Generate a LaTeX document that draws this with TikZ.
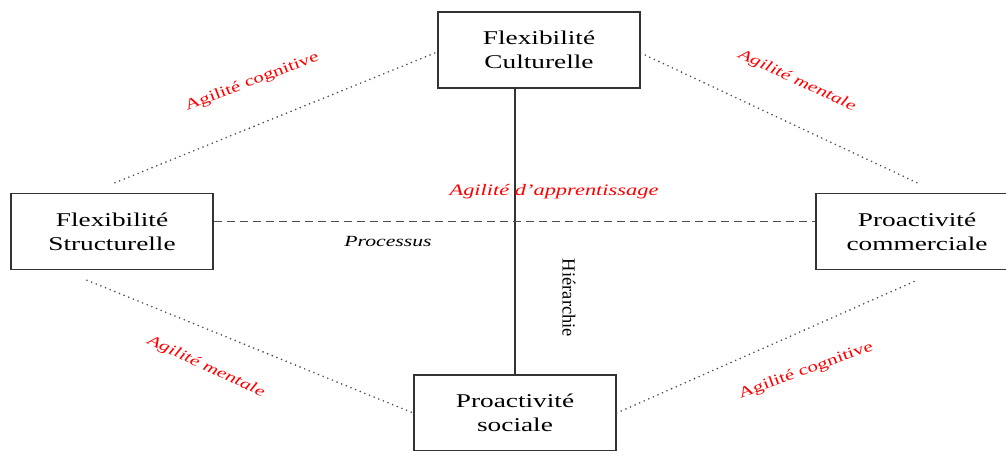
\documentclass[tikz,border=0pt]{standalone}
\usepackage{fontspec}
\setmainfont[FakeStretch=1.4]{Liberation Serif}
\newfontfamily\plainserif{Liberation Serif}
\usetikzlibrary{calc}

\begin{document}
\begin{tikzpicture}[
    x=1pt, y=-1pt,
    box/.style={draw=black!80, line width=1.5pt, align=center, minimum width=202pt, minimum height=76pt, inner sep=0pt, font=\fontsize{19.5}{24}\selectfont},
    axis/.style={draw=black!80, line width=1.7pt},
    dashlink/.style={draw=black!70, line width=1.4pt, dash pattern=on 8pt off 5pt},
    dotlink/.style={draw=black!70, line width=1.8pt, line cap=round, dash pattern=on 0pt off 5pt},
    agil/.style={text=red, inner sep=0pt, font=\fontsize{15}{18}\selectfont},
    tag/.style={inner sep=0pt, font=\fontsize{15.5}{18}\selectfont\itshape}
]
\useasboundingbox (0,0) rectangle (1006,450);

% the four poles
\node[box] (fc) at (539,50) {Flexibilité\\Culturelle};
\node[box] (fs) at (112,231.5) {Flexibilité\\Structurelle};
\node[box] (pc) at (917,231.5) {Proactivité\\commerciale};
\node[box] (ps) at (515,413) {Proactivité\\sociale};

% axes
\draw[axis] ([xshift=-24pt]fc.south) -- (ps.north);
\draw[dashlink] ([yshift=10pt]fs.east) -- ([yshift=10pt]pc.west);

% sides of the diamond
\draw[dotlink] ([xshift=3pt,yshift=10pt]fs.north) -- ([yshift=-2pt]fc.west);
\draw[dotlink] ([yshift=-3pt]fc.east) -- ([yshift=10pt]pc.north);
\draw[dotlink] ([xshift=-25pt,yshift=-10pt]fs.south) -- (ps.west);
\draw[dotlink] (ps.east) -- ([yshift=-10pt]pc.south);

% labels
\node[agil, rotate=21] (cogA) at (252,82) {Agilité cognitive};
\node[agil, font=\fontsize{15}{18}\selectfont\itshape, rotate=-25] (menA) at (797,81) {Agilité mentale};
\node[agil, font=\fontsize{15}{18}\selectfont\itshape, rotate=-25] (menB) at (206,367) {Agilité mentale};
\node[agil, rotate=20] (cogB) at (806,371) {Agilité cognitive};
\node[tag, text=red, font=\fontsize{16}{18}\selectfont\itshape] (appr) at (554,192) {Agilité d'apprentissage};
\node[tag] (proc) at (388,242) {Processus};
\node[inner sep=0pt, rotate=-90, font=\plainserif\fontsize{18.5}{20}\selectfont] (hier) at (569,298) {Hiérarchie};

\end{tikzpicture}
\end{document}
